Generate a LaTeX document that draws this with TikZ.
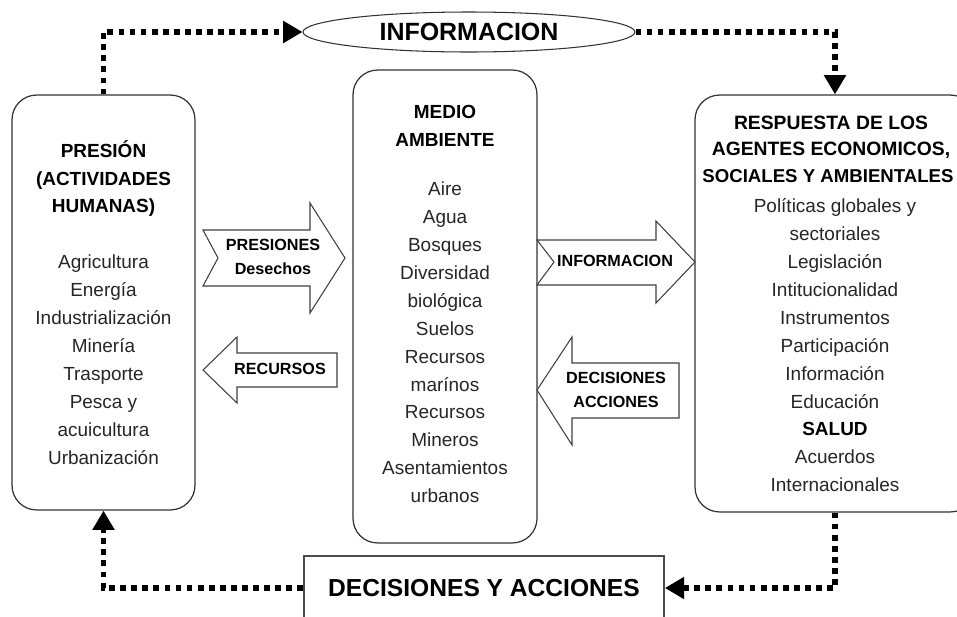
\documentclass[tikz,border=0pt]{standalone}
\usepackage{fontspec}
\setmainfont{Liberation Sans}
\usetikzlibrary{arrows.meta,shapes.geometric}

\begin{document}
\begin{tikzpicture}[x=0.02cm,y=-0.02cm,>={Triangle[length=11pt,width=12pt]},
  caja/.style={draw=black!80,line width=0.7pt,rounded corners=14pt,inner sep=0pt},
  puntos/.style={line width=3.3pt,dash pattern=on 3.3pt off 3pt},
  flecha/.style={draw=black!75,line width=0.6pt,fill=white},
  linea/.style={inner sep=0pt,text=black!85,text height=8.5pt,text depth=2pt,
    font=\fontsize{10.8}{13}\selectfont},
  titulo/.style={linea,text=black,font=\fontsize{10.8}{13}\selectfont\bfseries},
  rotulo/.style={inner sep=0pt,text height=7pt,text depth=1.5pt,
    font=\fontsize{9.2}{11}\selectfont\bfseries}]
  \newcommand*{\Interlinea}{27.9}
  \useasboundingbox (0,0) rectangle (957,616);

  % cajas
  \node[caja,minimum width=3.66cm,minimum height=8.3cm] (izq) at (103.5,302.5) {};
  \node[caja,minimum width=3.68cm,minimum height=9.46cm] (medio) at (445,306.5) {};
  \node[caja,minimum width=5.6cm,minimum height=8.34cm] (der) at (835,303.5) {};
  \node[ellipse,draw=black!80,line width=0.6pt,inner sep=0pt,minimum width=6.64cm,
    minimum height=0.8cm,font=\fontsize{14.2}{16}\selectfont\bfseries] (info) at (469,32) {INFORMACION};
  \node[draw=black!70,line width=1pt,inner sep=0pt,minimum width=7.2cm,minimum height=1.28cm,
    font=\fontsize{14}{16}\selectfont\bfseries] (dec) at (484,588) {DECISIONES Y ACCIONES};

  % textos de las cajas
  \node[titulo] (izq-t1) at (103.5,152) {PRESIÓN};
  \node[titulo] (izq-t2) at (103.5,180) {(ACTIVIDADES};
  \node[titulo] (izq-t3) at (103.5,207) {HUMANAS)};
  \foreach \t [count=\i from 0] in {Agricultura,Energía,Industrialización,Minería,
      Trasporte,Pesca y,acuicultura,Urbanización}
    \node[linea] (izq-\i) at (103.5,263+\Interlinea*\i) {\t};

  \node[titulo] (medio-t1) at (445,113) {MEDIO};
  \node[titulo] (medio-t2) at (445,141) {AMBIENTE};
  \foreach \t [count=\i from 0] in {Aire,Agua,Bosques,Diversidad,biológica,Suelos,
      Recursos,marínos,Recursos,Mineros,Asentamientos,urbanos}
    \node[linea] (medio-\i) at (445,190+\Interlinea*\i) {\t};

  \node[titulo,font=\fontsize{11}{13}\selectfont\bfseries] (der-t1) at (831,124) {RESPUESTA DE LOS};
  \node[titulo,font=\fontsize{11}{13}\selectfont\bfseries] (der-t2) at (831,150) {AGENTES ECONOMICOS,};
  \node[titulo,font=\fontsize{10.6}{13}\selectfont\bfseries] (der-t3) at (828,177) {SOCIALES Y AMBIENTALES};
  \foreach \t [count=\i from 0] in {Políticas globales y,sectoriales,Legislación,
      Intitucionalidad,Instrumentos,Participación,Información,Educación,
      \textbf{\textcolor{black}{SALUD}},Acuerdos,Internacionales}
    \node[linea] (der-\i) at (835,207+\Interlinea*\i) {\t};

  % flechas gruesas
  \draw[flecha] (203,230) -- (310,230) -- (310,203) -- (345,258) -- (310,313)
    -- (310,286) -- (203,286) -- (218,258) -- cycle;
  \node[rotulo] (presiones) at (273,246) {PRESIONES};
  \node[rotulo] (desechos) at (273,270) {Desechos};

  \draw[flecha] (203,370) -- (237,337) -- (237,353) -- (337,353) -- (337,387)
    -- (237,387) -- (237,403) -- cycle;
  \node[rotulo] (recursos) at (280,370) {RECURSOS};

  \draw[flecha] (537,240) -- (656,240) -- (656,221) -- (695,262) -- (656,303)
    -- (656,285) -- (537,285) -- (554,262) -- cycle;
  \node[rotulo] (informacion) at (615,262) {INFORMACION};

  \draw[flecha] (537,390) -- (572,337) -- (572,363) -- (679,363) -- (679,418)
    -- (572,418) -- (572,445) -- cycle;
  \node[rotulo] (decisiones) at (616,379) {DECISIONES};
  \node[rotulo] (acciones) at (616,403) {ACCIONES};

  % lineas de puntos
  \draw[puntos,->] (izq.north) |- (info.west);
  \draw[puntos,->] (info.east) -| (der.north);
  \draw[puntos,->] (der.south) |- (dec.east);
  \draw[puntos,->] (dec.west) -| (izq.south);
\end{tikzpicture}
\end{document}
